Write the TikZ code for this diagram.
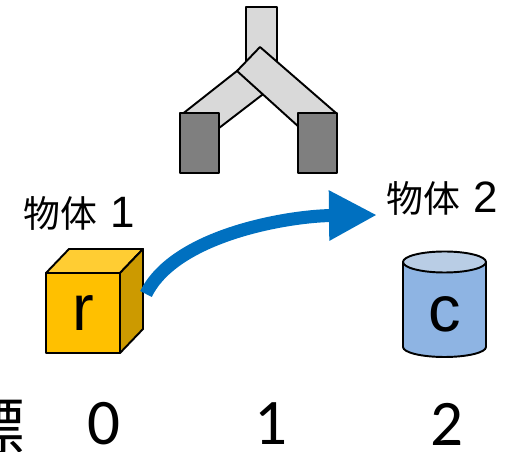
\documentclass[tikz,border=0pt]{standalone}
\usepackage{fontspec}
\setmainfont{Liberation Sans}
\newfontfamily\jpfont{Noto Sans CJK JP}
\newfontfamily\numfont{Carlito}
\usetikzlibrary{arrows.meta}
\definecolor{cGrip}{RGB}{217,217,217}
\definecolor{cFinger}{RGB}{127,127,127}
\definecolor{cBox}{RGB}{255,192,0}
\definecolor{cBoxTop}{RGB}{255,205,51}
\definecolor{cBoxSide}{RGB}{204,154,0}
\definecolor{cCyl}{RGB}{142,180,227}
\definecolor{cCylTop}{RGB}{185,205,229}
\definecolor{cArrow}{RGB}{0,112,192}
% object name with its number
\newcommand{\objtext}[1]{物体\hspace{0.26cm}{\rmfamily\fontsize{25}{28}\selectfont #1}}

\begin{document}
\begin{tikzpicture}[x=0.02cm, y=-0.02cm,
  part/.style={draw=black, line width=1.1pt, line join=round},
  objname/.style={font=\jpfont\fontsize{21}{26}\selectfont, inner sep=0pt},
  idx/.style={font=\numfont\fontsize{37}{44}\selectfont, inner sep=0pt},
  letter/.style={font=\fontsize{37}{44}\selectfont, inner sep=0pt}]
  \useasboundingbox (0,0) rectangle (525,452);
  % gripper
  \filldraw[part, fill=cGrip] (246,7) rectangle (277,70);
  \filldraw[part, fill=cGrip] (249,61.5) -- (272,87.3) -- (205,138.8) -- (182,114.3) -- cycle;
  \filldraw[part, fill=cGrip] (237,71) -- (260,47) -- (336,113) -- (310,137) -- cycle;
  \filldraw[part, fill=cFinger] (180,113) rectangle (219,173);
  \filldraw[part, fill=cFinger] (298,113) rectangle (337,173);
  % object 1: cube
  \filldraw[part, fill=cBoxTop] (46,273) -- (69,249) -- (143,249) -- (120,273) -- cycle;
  \filldraw[part, fill=cBoxSide] (120,273) -- (143,249) -- (143,329) -- (120,353) -- cycle;
  \node[part, fill=cBox, minimum width=1.48cm, minimum height=1.6cm, inner sep=0pt] (cube) at (83,313) {};
  \node[letter] (r) at (cube.center) {r};
  % object 2: cylinder
  \filldraw[part, fill=cCyl] (403,262) -- (403,347) arc[start angle=180, end angle=360, x radius=0.83cm, y radius=0.2cm] -- (486,262) -- cycle;
  \filldraw[part, fill=cCylTop] (444.5,262) ellipse[x radius=0.83cm, y radius=0.21cm];
  \node[letter] (c) at (444.5,314) {c};
  % names
  \node[objname] (name1) at (79,213.5) {\objtext{1}};
  \node[objname] (name2) at (442,198.5) {\objtext{2}};
  % move
  \coordinate (from) at (146,294);
  \coordinate (to) at (377,215);
  \draw[cArrow, line width=0.26cm, -{Triangle[length=0.96cm, width=0.94cm]}]
    (from) .. controls (175,235) and (288,216) .. (to);
  % positions
  \node[objname, font=\jpfont\fontsize{36}{40}\selectfont, anchor=east] (poslabel) at (25,427) {座標};
  \node[idx] (p0) at (104,424) {0};
  \node[idx] (p1) at (271,424) {1};
  \node[idx] (p2) at (447,424) {2};
\end{tikzpicture}
\end{document}
